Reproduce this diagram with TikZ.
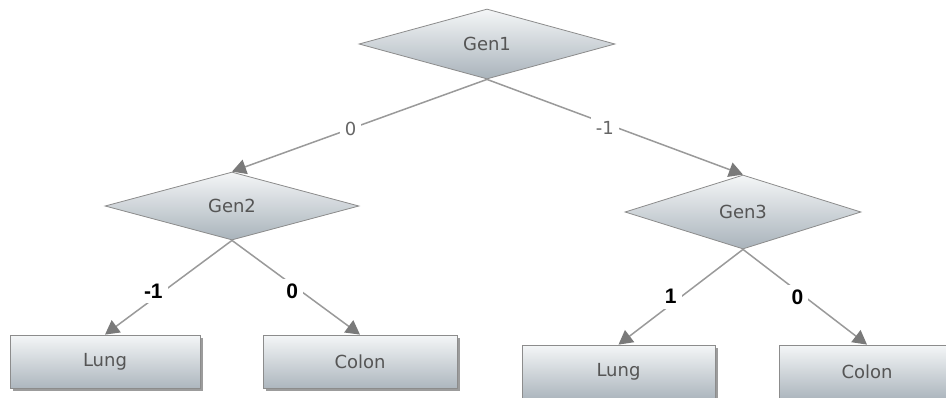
\documentclass[tikz,border=0pt]{standalone}
\usepackage{fontspec}
\setmainfont{DejaVu Sans}
\newfontfamily\boldlab{Liberation Sans}
\usetikzlibrary{shapes.geometric,arrows.meta,shadows}
\definecolor{nodetxt}{HTML}{555555}
\definecolor{edgecol}{HTML}{9A9A9A}
\definecolor{tipcol}{HTML}{7A7A7A}
\definecolor{shtop}{HTML}{F4F6F7}
\definecolor{shbot}{HTML}{A9B3BB}
\definecolor{bordercol}{HTML}{8C8C8C}
\tikzset{
  decision/.style={diamond, draw=bordercol, line width=0.8pt, top color=shtop, bottom color=shbot,
    inner sep=0pt, text=nodetxt, font=\fontsize{18}{21}\selectfont},
  leafbox/.style={rectangle, draw=bordercol, line width=0.8pt, top color=shtop, bottom color=shbot!95!white,
    inner sep=0pt, text=nodetxt, font=\fontsize{18}{21}\selectfont,
    drop shadow={shadow xshift=2.5pt, shadow yshift=-2.5pt, fill=black!55, opacity=0.7}},
  conn/.style={draw=edgecol, line width=1.5pt, -{Triangle[length=14pt,width=15pt,color=tipcol]}},
  toplab/.style={fill=white, inner sep=5pt, text=black!60, font=\fontsize{18}{21}\selectfont},
  botlab/.style={fill=white, inner sep=5pt, text=black, font=\fontsize{21}{25}\boldlab\bfseries}
}
\begin{document}
\begin{tikzpicture}[x=1pt,y=-1pt]
\useasboundingbox[fill=white] (0,0) rectangle (946,397);
\node[decision, minimum width=256pt, minimum height=70pt] (g1) at (487,44) {Gen1};
\node[decision, minimum width=254pt, minimum height=68pt] (g2) at (232,206) {Gen2};
\node[decision, minimum width=236pt, minimum height=74pt] (g3) at (743,212) {Gen3};
\node[leafbox, minimum width=190pt, minimum height=53pt] (l1) at (105,361.5) {Lung};
\node[leafbox, minimum width=194pt, minimum height=53pt] (c1) at (360,361.5) {Colon};
\node[leafbox, minimum width=193pt, minimum height=53pt] (l2) at (618.5,371.5) {Lung};
\node[leafbox, minimum width=176pt, minimum height=53pt] (c2) at (867,371.5) {Colon};
\draw[conn] (g1.south) -- node[pos=0.535, toplab] (e1) {0} (g2.north);
\draw[conn] (g1.south) -- node[pos=0.46, toplab, yshift=-5pt] (e2) {-1} (g3.north);
\draw[conn] (g2.south) -- node[pos=0.58, botlab, xshift=-5pt, yshift=4pt] (e3) {-1} (l1.north);
\draw[conn] (g2.south) -- node[pos=0.47, botlab, yshift=-7pt] (e4) {0} (c1.north);
\draw[conn] (g3.south) -- node[pos=0.58, botlab, yshift=8pt] (e5) {1} (l2.north);
\draw[conn] (g3.south) -- node[pos=0.44, botlab, yshift=-6pt] (e6) {0} (c2.north);
\end{tikzpicture}
\end{document}
